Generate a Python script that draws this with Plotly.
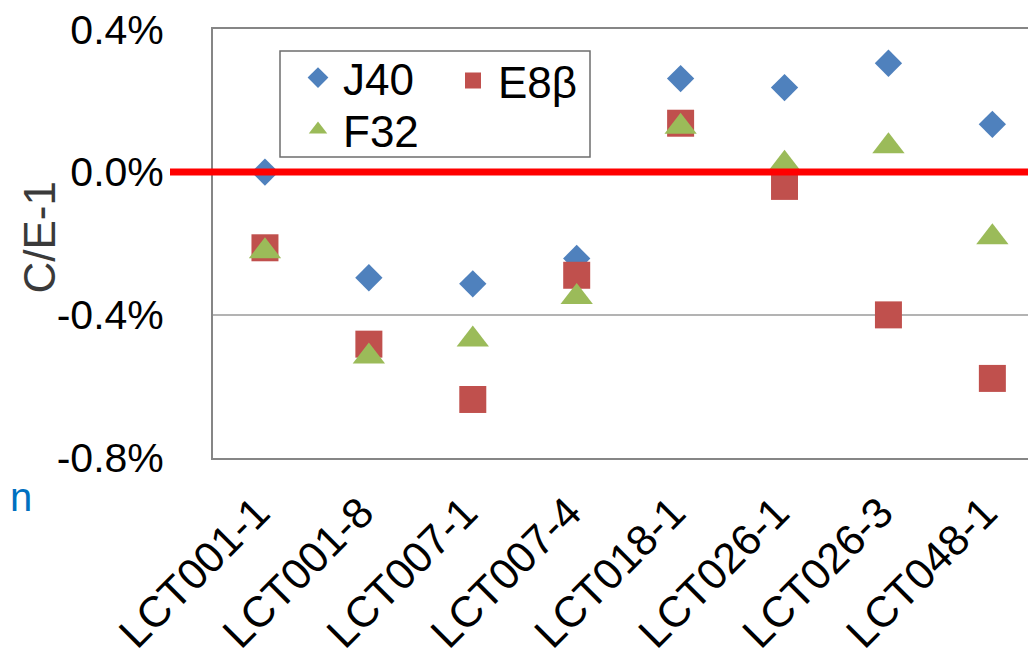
import plotly.graph_objects as go

categories = ["LCT001-1", "LCT001-8", "LCT007-1", "LCT007-4",
              "LCT018-1", "LCT026-1", "LCT026-3", "LCT048-1"]
j40 = [0.00000, -0.00296, -0.00313, -0.00242, 0.00262, 0.00237, 0.00305, 0.00134]
e8b = [-0.00212, -0.00482, -0.00637, -0.00289, 0.00137, -0.00040, -0.00400, -0.00578]
f32 = [-0.00212, -0.00507, -0.00459, -0.00340, 0.00137, 0.00033, 0.00082, -0.00173]
y_tickvals = [-0.008, -0.004, 0.0, 0.004]
y_ticktext = ["-0.8%", "-0.4%", "0.0%", "0.4%"]
y_title = "C/E-1"

FONT = "Liberation Sans, Arial, sans-serif"
# the page body has an 8px margin; the figure is sized to fill the window
OFF = 8
W, H = 1036 - OFF, 658 - OFF
ML, MT, MB = 213 - OFF, 29 - OFF, 200
PW, PH = W - ML, H - MT - MB
Y_RANGE = [-0.00801, 0.00401]
TRI_SIZE = 28
# plotly's triangle glyph box is centred r/4 above its anchor; compensate so
# the glyph is centred on the value like the reference markers
TRI_SHIFT = (TRI_SIZE / 8.0) * (Y_RANGE[1] - Y_RANGE[0]) / PH


def px_x(p):
    return (p - OFF - ML) / PW


def px_y(p):
    return 1 - (p - OFF - MT) / PH


fig = go.Figure()
fig.add_trace(go.Scatter(
    x=categories, y=j40, mode="markers", name="J40",
    marker=dict(symbol="diamond", size=21, color="#4F81BD", line=dict(width=0)),
    legend="legend"))
fig.add_trace(go.Scatter(
    x=categories, y=e8b, mode="markers", name="E8β",
    marker=dict(symbol="square", size=27, color="#C0504D", line=dict(width=0)),
    legend="legend2"))
fig.add_trace(go.Scatter(
    x=categories, y=f32, mode="markers", name="F32", yaxis="y2",
    marker=dict(symbol="triangle-up", size=TRI_SIZE, color="#9BBB59", line=dict(width=0)),
    legend="legend3"))

# red zero reference line
fig.add_shape(type="line", xref="paper", yref="y",
              x0=px_x(170), x1=1.0, y0=0, y1=0,
              line=dict(color="#FF0000", width=7), layer="above")

# legend frame
fig.add_shape(type="rect", xref="paper", yref="paper",
              x0=px_x(280), x1=px_x(590), y0=px_y(157), y1=px_y(51),
              line=dict(color="#6E6E6E", width=1.5), fillcolor="rgba(0,0,0,0)",
              layer="above")

# y-axis title
fig.add_annotation(text=y_title, xref="paper", yref="paper",
                   x=px_x(38.5), y=px_y(238), xanchor="center", yanchor="middle",
                   textangle=-90, showarrow=False,
                   font=dict(family=FONT, size=44, color="#3A3A3A"))

# blue letter at the left edge of the slide
fig.add_annotation(text="n", xref="paper", yref="paper",
                   x=px_x(8), y=px_y(497), xanchor="left", yanchor="middle",
                   showarrow=False, font=dict(family=FONT, size=40, color="#0070C0"))

LEG_FONT = dict(family=FONT, size=44, color="#000000")
fig.update_layout(
    width=W, height=H,
    margin=dict(l=ML, r=0, t=MT, b=MB, autoexpand=False),
    paper_bgcolor="white", plot_bgcolor="white",
    font=dict(family=FONT, size=41, color="#000000"),
    showlegend=True,
    legend=dict(x=px_x(293), y=px_y(78), xanchor="left", yanchor="middle",
                bgcolor="rgba(0,0,0,0)", borderwidth=0, font=LEG_FONT,
                itemsizing="trace", itemwidth=40),
    legend3=dict(x=px_x(293), y=px_y(130), xanchor="left", yanchor="middle",
                 bgcolor="rgba(0,0,0,0)", borderwidth=0, font=LEG_FONT,
                 itemsizing="trace", itemwidth=40),
    legend2=dict(x=px_x(448), y=px_y(81), xanchor="left", yanchor="middle",
                 bgcolor="rgba(0,0,0,0)", borderwidth=0, font=LEG_FONT,
                 itemsizing="trace", itemwidth=40),
    xaxis=dict(
        type="category", range=[-0.5, 7.42],
        tickangle=-45, tickfont=dict(family=FONT, size=43, color="#000000"),
        showgrid=False, zeroline=False,
        showline=True, linecolor="#868686", linewidth=2, mirror=True,
        ticks="", automargin=False, ticklabelstandoff=10, ticklabelshift=-8,
    ),
    yaxis=dict(
        range=Y_RANGE, tickvals=y_tickvals, ticktext=y_ticktext,
        tickfont=dict(family=FONT, size=41, color="#000000"),
        showgrid=True, gridcolor="#B3B3B3", gridwidth=1.5,
        zeroline=False,
        showline=True, linecolor="#868686", linewidth=2, mirror=False,
        ticks="", ticklabelstandoff=39, automargin=False,
        ticklabeloverflow="allow",
    ),
    yaxis2=dict(overlaying="y", range=[Y_RANGE[0] + TRI_SHIFT, Y_RANGE[1] + TRI_SHIFT],
                visible=False, showgrid=False, zeroline=False),
)

fig.write_html("out.html")
